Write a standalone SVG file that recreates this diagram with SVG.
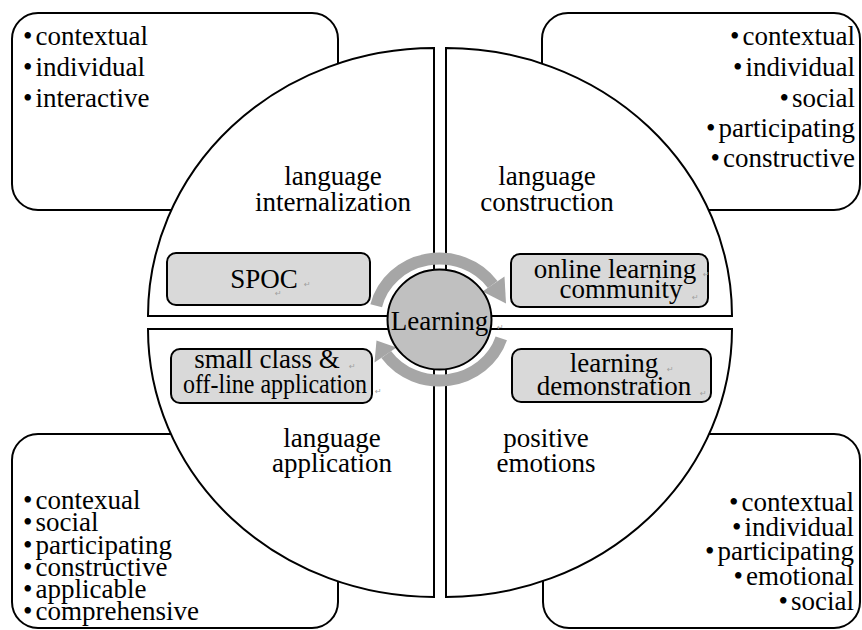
<svg xmlns="http://www.w3.org/2000/svg" width="862" height="630" viewBox="0 0 862 630">
  <defs>
    <style>
      .box { fill: #ffffff; stroke: #000000; stroke-width: 2; }
      .quad { fill: #ffffff; stroke: #000000; stroke-width: 2; stroke-linejoin: miter; }
      .tag { fill: #d9d9d9; stroke: #000000; stroke-width: 2; }
      .hub { fill: #c0c0c0; stroke: #000000; stroke-width: 2; }
      .cycle { fill: none; stroke: #a6a6a6; stroke-width: 12; stroke-linecap: butt; }
      .head { fill: #a6a6a6; stroke: none; }
      .t { font-size: 27px; fill: #000000; }
      .mid { text-anchor: middle; }
      .end { text-anchor: end; }
      .pm { font-size: 8px; fill: #a0a0a0; }
    </style>
  </defs>

  <rect width="862" height="630" fill="#ffffff"/>

  <g font-family="Liberation Serif, DejaVu Serif, serif">
  <!-- corner panels with feature lists -->
  <g id="panel-top-left">
    <rect class="box" x="12" y="13" width="326" height="197" rx="26"/>
    <text class="t" x="23" y="45">•<tspan dx="3">contextual</tspan></text>
    <text class="t" x="23" y="76">•<tspan dx="3">individual</tspan></text>
    <text class="t" x="23" y="107">•<tspan dx="3">interactive</tspan></text>
  </g>
  <g id="panel-top-right">
    <rect class="box" x="542" y="13" width="318" height="197" rx="26"/>
    <text class="t end" x="855" y="45">•<tspan dx="3">contextual</tspan></text>
    <text class="t end" x="855" y="76">•<tspan dx="3">individual</tspan></text>
    <text class="t end" x="855" y="107">•<tspan dx="3">social</tspan></text>
    <text class="t end" x="855" y="137">•<tspan dx="3">participating</tspan></text>
    <text class="t end" x="855" y="167">•<tspan dx="3">constructive</tspan></text>
  </g>
  <g id="panel-bottom-left">
    <rect class="box" x="12" y="434" width="326" height="194" rx="26"/>
    <text class="t" x="23" y="509">•<tspan dx="3">contexual</tspan></text>
    <text class="t" x="23" y="531">•<tspan dx="3">social</tspan></text>
    <text class="t" x="23" y="554">•<tspan dx="3">participating</tspan></text>
    <text class="t" x="23" y="576">•<tspan dx="3">constructive</tspan></text>
    <text class="t" x="23" y="598">•<tspan dx="3">applicable</tspan></text>
    <text class="t" x="23" y="620">•<tspan dx="3">comprehensive</tspan></text>
  </g>
  <g id="panel-bottom-right">
    <rect class="box" x="543" y="434" width="317" height="194" rx="26"/>
    <text class="t end" x="854" y="511">•<tspan dx="3">contextual</tspan></text>
    <text class="t end" x="854" y="536">•<tspan dx="3">individual</tspan></text>
    <text class="t end" x="854" y="560">•<tspan dx="3">participating</tspan></text>
    <text class="t end" x="854" y="585">•<tspan dx="3">emotional</tspan></text>
    <text class="t end" x="854" y="610">•<tspan dx="3">social</tspan></text>
  </g>

  <!-- four quarter-ellipse sectors -->
  <g id="sector-internalization">
    <path class="quad" d="M434,48 L434,316 L148,316 A286,268 0 0 1 434,48 Z"/>
    <text class="t mid" x="333" y="185">language</text>
    <text class="t mid" x="333" y="211">internalization</text>
  </g>
  <g id="sector-construction">
    <path class="quad" d="M446,48 A286,268 0 0 1 732,316 L446,316 Z"/>
    <text class="t mid" x="547" y="185">language</text>
    <text class="t mid" x="547" y="211">construction</text>
  </g>
  <g id="sector-application">
    <path class="quad" d="M434,329 L434,597 A286,268 0 0 1 148,329 Z"/>
    <text class="t mid" x="332" y="447">language</text>
    <text class="t mid" x="332" y="472">application</text>
  </g>
  <g id="sector-emotions">
    <path class="quad" d="M446,329 L732,329 A286,268 0 0 1 446,597 Z"/>
    <text class="t mid" x="546" y="447">positive</text>
    <text class="t mid" x="546" y="472">emotions</text>
  </g>

  <!-- activity tags -->
  <g id="tag-spoc">
    <rect class="tag" x="167" y="253" width="203" height="52" rx="9"/>
    <text class="t mid" x="264" y="288" font-size="26">SPOC</text>
    <text class="pm" x="304" y="287" font-family="DejaVu Sans, sans-serif">↵</text>
    <text class="pm" x="275" y="296" font-family="DejaVu Sans, sans-serif">↵</text>
  </g>
  <g id="tag-small-class">
    <rect class="tag" x="171" y="349" width="201" height="54" rx="9"/>
    <text class="t mid" x="267" y="368">small class &amp;</text>
    <text class="t" x="183" y="393" textLength="184" lengthAdjust="spacingAndGlyphs">off-line application</text>
    <text class="pm" x="349" y="369" font-family="DejaVu Sans, sans-serif">↵</text>
    <text class="pm" x="375" y="394" font-family="DejaVu Sans, sans-serif">↵</text>
  </g>
  <g id="tag-online-community">
    <rect class="tag" x="511" y="254" width="197" height="53" rx="9"/>
    <text class="t mid" x="615" y="278">online learning</text>
    <text class="t mid" x="621" y="298">community</text>
    <text class="pm" x="703" y="277" font-family="DejaVu Sans, sans-serif">↵</text>
    <text class="pm" x="692" y="300" font-family="DejaVu Sans, sans-serif">↵</text>
  </g>
  <g id="tag-demonstration">
    <rect class="tag" x="512" y="349" width="199" height="53" rx="9"/>
    <text class="t mid" x="614" y="372">learning</text>
    <text class="t mid" x="614" y="395">demonstration</text>
    <text class="pm" x="667" y="372" font-family="DejaVu Sans, sans-serif">↵</text>
    <text class="pm" x="700" y="396" font-family="DejaVu Sans, sans-serif">↵</text>
  </g>

  <!-- circular flow around the hub -->
  <g id="connectors">
    <path class="cycle" d="M376.2,305.8 A65,61 0 0 1 492.7,284.5"/>
    <polygon class="head" points="504.5,276.5 506,303.5 482.5,291.5"/>
    <path class="cycle" d="M501.3,338.4 A65,61 0 0 1 386.2,354.5"/>
    <polygon class="head" points="374.5,362.5 376.5,340.5 396.5,347.5"/>
  </g>

  <!-- hub -->
  <g id="hub-learning">
    <ellipse class="hub" cx="439.5" cy="319.5" rx="52" ry="50"/>
    <text class="t mid" x="439.5" y="330">Learning</text>
    <text class="pm" x="497" y="330" font-family="DejaVu Sans, sans-serif">↵</text>
  </g>
  </g>
</svg>
